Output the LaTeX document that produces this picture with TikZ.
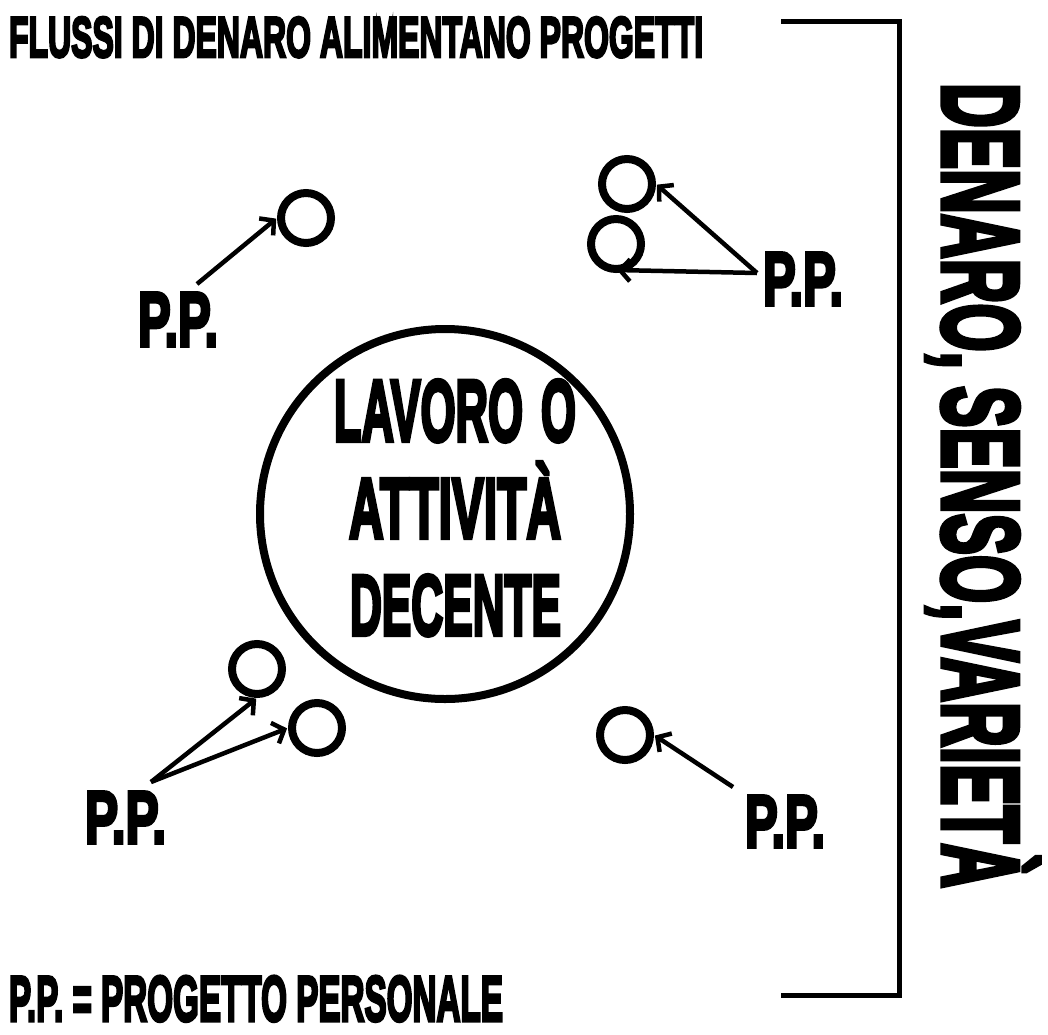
\documentclass[tikz,border=0pt]{standalone}
\usepackage{fontspec}
\usepackage{graphicx}
\usetikzlibrary{arrows.meta}
\newfontfamily\heavy{Liberation Sans}[BoldFeatures={FakeBold=5}]
\newcommand{\fitt}[3]{\resizebox{#1pt}{#2pt}{\heavy\bfseries #3}}
\tikzset{
  lbl/.style={inner sep=0pt, outer sep=0pt, anchor=base west},
  pp/.style={circle, draw, line width=8pt, minimum size=50pt, inner sep=0pt},
  arr/.style={line width=4.5pt, shorten >=1pt, -{Straight Barb[length=10pt,width=22pt,line width=4.5pt]}},
  brk/.style={line width=5pt, line join=miter}
}
\begin{document}
\begin{tikzpicture}[x=1pt,y=-1pt]
\useasboundingbox (0,0) rectangle (1048,1034);
% title and legend
\node[lbl] (title) at (9,57) {\fitt{694}{40}{FLUSSI DI DENARO ALIMENTANO PROGETTI}};
\node[lbl] (legend) at (9,1021) {\fitt{494}{45}{P.P. = PROGETTO PERSONALE}};
% bracket
\coordinate (b1) at (781,21.5);
\coordinate (b2) at (899.5,21.5);
\coordinate (b3) at (899.5,995);
\coordinate (b4) at (781,995);
\draw[brk] (b1) -- (b2) -- (b3) -- (b4);
% vertical text
\node[lbl, rotate=-90] (side) at (943,83) {\fitt{805}{96}{DENARO, SENSO,VARIETÀ}};
% central circle
\node[circle, draw, line width=8pt, minimum size=370pt, inner sep=0pt] (main) at (445,514) {};
\node[lbl] (m1) at (334,441) {\fitt{242}{61}{LAVORO\hspace{0.4em}O}};
\node[lbl] (m2) at (349,538) {\fitt{212}{76}{ATTIVITÀ}};
\node[lbl] (m3) at (350,635) {\fitt{211}{60}{DECENTE}};
% small circles
\node[pp] (c1) at (306,218) {};
\node[pp] (c2) at (627,184) {};
\node[pp] (c3) at (616,244) {};
\node[pp] (c5) at (257,669) {};
\node[pp] (c6) at (317,728) {};
\node[pp] (c7) at (625,735) {};
% P.P. labels
\node[lbl] (pTL) at (138,346) {\fitt{80}{53}{P.P.}};
\node[lbl] (pTR) at (763,305) {\fitt{80}{52}{P.P.}};
\node[lbl] (pBL) at (85,843) {\fitt{81}{51}{P.P.}};
\node[lbl] (pBR) at (745,847) {\fitt{80}{51}{P.P.}};
% arrow origins
\coordinate (sTL) at (197,284);
\coordinate (sTR) at (757,273);
\coordinate (sBL) at (151,782);
\coordinate (sBR) at (733,787);
% arrows
\draw[arr] (sTL) -- (c1.west);
\draw[arr] (sTR) -- (c2.east);
\draw[arr] (sTR) -- ([yshift=3pt]c3.south);
\draw[arr] (sBL) -- (c5.south);
\draw[arr] (sBL) -- (c6.west);
\draw[arr] (sBR) -- (c7.east);
\end{tikzpicture}
\end{document}
